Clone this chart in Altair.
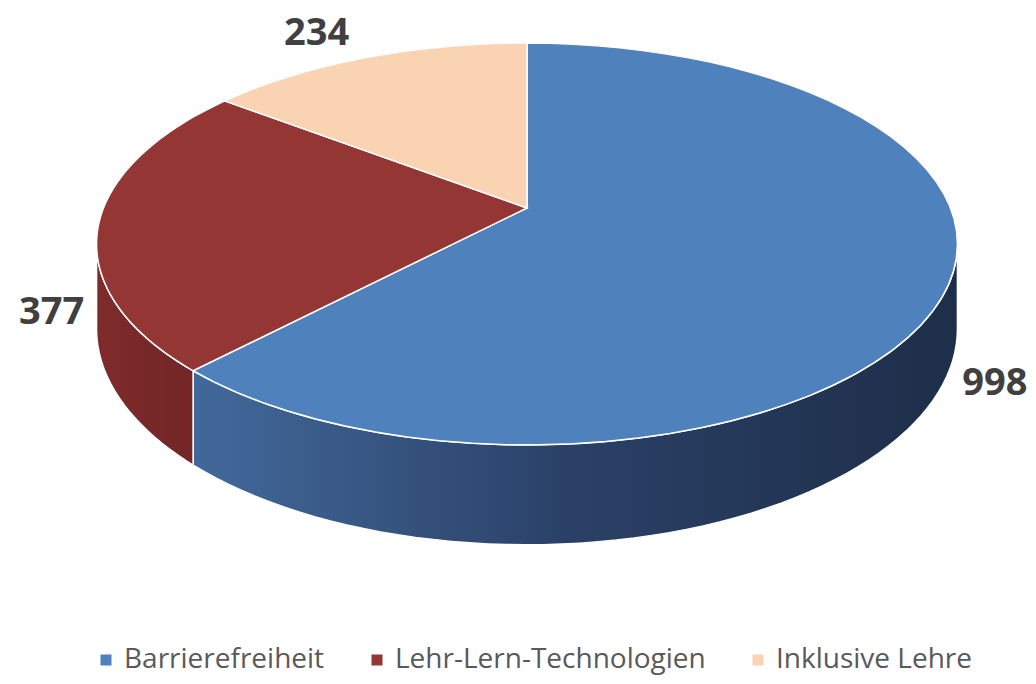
import altair as alt
import pandas as pd

categories = ["Barrierefreiheit", "Lehr-Lern-Technologien", "Inklusive Lehre"]
values = [998, 377, 234]
top_colors = ["#4f81bd", "#943634", "#fad3b3"]

df = pd.DataFrame({"cat": categories, "value": values})

# projection constants (screen pixels)
CX, CY, RX, RY, K, H = 527, 208, 423.5, 194.5, 0.179, 82
N = 60
LO = "acos(-%s)" % K
HI = "(2*PI - acos(-%s))" % K

xs = alt.Scale(domain=[8, 1028], zero=False, nice=False)
ys = alt.Scale(domain=[8, 676], zero=False, nice=False, reverse=True)


def base_angles(ch):
    return (
        ch.transform_window(cum="sum(value)", frame=[None, 0])
        .transform_joinaggregate(total="sum(value)")
        .transform_calculate(
            a0="2*PI*(datum.cum - datum.value)/datum.total",
            a1="2*PI*datum.cum/datum.total",
        )
    )


# ---- side walls ----
wall_styles = {
    categories[0]: [("#42699b", 0), ("#2a4066", 0.5), ("#1d2e48", 1)],
    categories[1]: [("#7f2b2b", 0), ("#722626", 1)],
}

walls = []
for cat, stops in wall_styles.items():
    w = base_angles(alt.Chart())
    w = (
        w.transform_calculate(
            b0="max(datum.a0, %s)" % LO,
            b1="min(datum.a1, %s)" % HI,
        )
        .transform_filter("datum.b1 > datum.b0")
        .transform_filter(alt.datum.cat == cat)
        .transform_calculate(t="sequence(0, %d)" % (2 * N + 2))
        .transform_flatten(["t"])
        .transform_calculate(
            ang="datum.t <= %d ? datum.b0 + (datum.b1 - datum.b0)*datum.t/%d : datum.b1 - (datum.b1 - datum.b0)*(datum.t-%d)/%d"
            % (N, N, N + 1, N)
        )
        .transform_calculate(s="1/(1 + %s*cos(datum.ang))" % K)
        .transform_calculate(
            px="%s + %s*sin(datum.ang)*datum.s" % (CX, RX),
            py="%s - %s*cos(datum.ang)*datum.s + (datum.t > %d ? %s*datum.s : 0)" % (CY, RY, N, H),
        )
        .mark_line(
            interpolate="linear-closed",
            fill={
                "gradient": "linear",
                "x1": 0, "x2": 1, "y1": 0, "y2": 0,
                "stops": [{"color": c, "offset": o} for c, o in stops],
            },
            stroke="white",
            strokeWidth=1.5,
        )
        .encode(
            x=alt.X("px:Q", scale=xs, axis=None),
            y=alt.Y("py:Q", scale=ys, axis=None),
            order=alt.Order("t:Q"),
        )
    )
    walls.append(w)

# ---- top slices ----
top = (
    base_angles(alt.Chart())
    .transform_calculate(t="sequence(0, %d)" % (N + 2))
    .transform_flatten(["t"])
    .transform_calculate(ang="datum.a0 + (datum.a1 - datum.a0)*max(datum.t-1, 0)/%d" % N)
    .transform_calculate(s="1/(1 + %s*cos(datum.ang))" % K)
    .transform_calculate(
        px="datum.t == 0 ? %s : %s + %s*sin(datum.ang)*datum.s" % (CX, CX, RX),
        py="datum.t == 0 ? %s : %s - %s*cos(datum.ang)*datum.s" % (CY, CY, RY),
    )
    .mark_line(interpolate="linear-closed", stroke="white", strokeWidth=1.5)
    .encode(
        x=alt.X("px:Q", scale=xs, axis=None),
        y=alt.Y("py:Q", scale=ys, axis=None),
        order=alt.Order("t:Q"),
        fill=alt.Fill(
            "cat:N",
            scale=alt.Scale(domain=categories, range=top_colors),
            sort=categories,
            legend=alt.Legend(
                title=None,
                orient="none",
                legendX=84,
                legendY=638,
                direction="horizontal",
                symbolType="square",
                symbolSize=121,
                symbolStrokeWidth=0,
                labelFontSize=28,
                labelFont="Open Sans",
                labelColor="#595959",
                labelOffset=4,
                labelLimit=0,
                columnPadding=38,
            ),
        ),
    )
)

# ---- value labels ----
labels = (
    base_angles(alt.Chart())
    .transform_calculate(m="(datum.a0 + datum.a1)/2")
    .transform_calculate(s="1/(1 + %s*cos(datum.m))" % K)
    .transform_calculate(
        lx="%s + %s*sin(datum.m)*datum.s*(1.11 + 0.22*max(cos(datum.m), 0))" % (CX, RX),
        ly="%s - %s*1.16*cos(datum.m)*datum.s + 87*clamp((0.5 - cos(datum.m))*1.8, 0, 1)" % (CY, RY),
    )
    .mark_text(font="Open Sans", fontSize=38, fontWeight="bold", color="#404040", baseline="middle", align="center")
    .encode(
        x=alt.X("lx:Q", scale=xs, axis=None),
        y=alt.Y("ly:Q", scale=ys, axis=None),
        text=alt.Text("value:Q"),
    )
)

chart = (
    alt.layer(*walls, top, labels, data=df)
    .properties(width=1020, height=668, autosize="none", padding=0)
    .configure_view(strokeWidth=0)
)

chart.save("out.html", embed_options={"renderer": "svg", "actions": False})
